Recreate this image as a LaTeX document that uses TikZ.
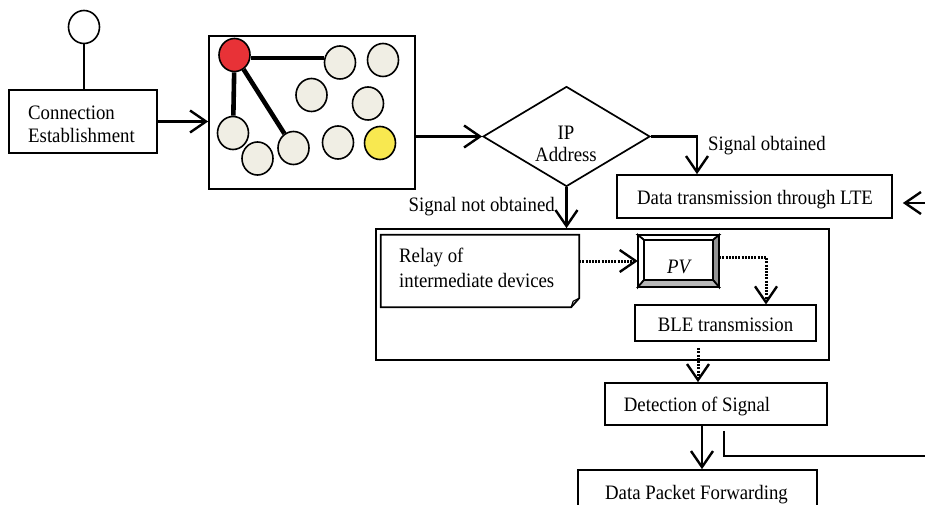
\documentclass[tikz,border=0pt]{standalone}
\usepackage{fontspec}
\setmainfont{Liberation Serif}
\usetikzlibrary{arrows.meta,shapes.geometric}
\definecolor{cream}{RGB}{240,238,228}
\definecolor{nodered}{RGB}{232,50,55}
\definecolor{nodeyellow}{RGB}{248,232,80}
\newcommand{\vst}[1]{\scalebox{1}[1.09]{#1}}
\begin{document}
\begin{tikzpicture}[x=1pt,y=-1pt,
  txt/.style={inner sep=0pt, font=\fontsize{18.8}{23.5}\selectfont},
  box/.style={draw, line width=1.7pt, rectangle, inner sep=0pt},
  arr/.style={line width=2.3pt, -{Straight Barb[length=16pt,width=22pt,line width=2.4pt]}},
  dotarr/.style={line width=3pt, dash pattern=on 2pt off 1.2pt, -{Straight Barb[length=16pt,width=22pt,line width=2.4pt]}},
  dev/.style={ellipse, draw, line width=1.6pt, fill=cream, minimum width=31pt, minimum height=33pt, inner sep=0pt},
  link/.style={line width=4.6pt},
  thin/.style={line width=1.7pt}]

\useasboundingbox (0,0) rectangle (925,505);
\clip (0,0) rectangle (925,505);
\fill[white] (0,0) rectangle (925,505);

% start
\node[dev, fill=white] (topc) at (84,27) {};
\node[box, minimum width=148pt, minimum height=63pt] (ce) at (83,121.5) {};
\node[txt, anchor=base west] (ce1) at (28,119.3) {\vst{Connection}};
\node[txt, anchor=base west] (ce2) at (28,142.7) {\vst{Establishment}};
\draw[thin] (topc.south) -- (topc.south |- ce.north);

% network
\node[box, minimum width=206pt, minimum height=153pt] (net) at (312,112.5) {};
\node[dev, fill=nodered] (red) at (234.5,55) {};
\node[dev] (c1) at (340,62.5) {};
\node[dev] (c2) at (383,60) {};
\node[dev] (c3) at (311.5,95) {};
\node[dev] (c4) at (368,103.5) {};
\node[dev] (c5) at (233,133) {};
\node[dev] (c6) at (257.5,158.5) {};
\node[dev] (c7) at (293.5,148) {};
\node[dev] (c8) at (338,142.5) {};
\node[dev, fill=nodeyellow] (yel) at (380,143) {};
\draw[link] (red.east |- 0,58) -- (c1.west |- 0,58);
\draw[link] (red) -- (c5);
\draw[link] (red) -- (c7);
\draw[arr] (ce.east) -- (ce.east -| net.west);

% decision
\node[diamond, draw, line width=1.7pt, minimum width=167pt, minimum height=100pt, inner sep=0pt] (ip) at (566.5,136.5) {};
\node[txt, anchor=base] (ip1) at (566,139.3) {\vst{IP}};
\node[txt, anchor=base] (ip2) at (566,161) {\vst{Address}};
\draw[arr] (net.east |- ip.west) -- (ip.west);

% LTE
\node[box, minimum width=275pt, minimum height=43pt] (lte) at (754.5,196.5) {};
\node[txt, anchor=base] (ltet) at (755,204) {\vst{Data transmission through LTE}};
\draw[arr] (ip.east) -| ([xshift=-57.5pt]lte.north);
\node[txt, anchor=base west] (so) at (708,150) {\vst{Signal obtained}};
\coordinate (rin) at (925,203);
\draw[arr] (rin) -- ([shift={(10pt,-6.5pt)}]lte.east);

% big box
\node[box, minimum width=453pt, minimum height=131pt] (big) at (602.5,294.5) {};
\draw[arr] (ip.south) -- (ip.south |- big.north);
\node[txt, anchor=base east] (sno) at (555,211.7) {\vst{Signal not obtained}};

% relay (document shape)
\node[minimum width=198pt, minimum height=72pt, inner sep=0pt] (relay) at (480,271) {};
\draw[thin, line join=miter] (relay.north west) -- (relay.north east) -- ([yshift=9pt]relay.south east)
  -- ([xshift=-8pt]relay.south east) -- (relay.south west) -- cycle;
\draw[line width=1.2pt] ([xshift=-8pt]relay.south east) -- ([xshift=-6pt,yshift=6pt]relay.south east) -- ([yshift=9pt]relay.south east);
\node[txt, anchor=base west] (r1) at (399,262.7) {\vst{Relay of}};
\node[txt, anchor=base west] (r2) at (399,287.7) {\vst{intermediate devices}};

% PV bevel box
\node[minimum width=81pt, minimum height=52pt, inner sep=0pt] (pv) at (678.5,261) {};
\filldraw[thin, fill=white] (638,235) -- (719,235) -- (713,240) -- (644,240) -- cycle;
\filldraw[thin, fill=white] (638,235) -- (644,240) -- (644,280) -- (638,287) -- cycle;
\filldraw[thin, fill=black!42] (719,235) -- (719,287) -- (713,280) -- (713,240) -- cycle;
\filldraw[thin, fill=black!28] (638,287) -- (719,287) -- (713,280) -- (644,280) -- cycle;
\draw[thin] (644,240) rectangle (713,280);
\node[txt, anchor=base, font=\fontsize{18.8}{23.5}\selectfont\itshape] (pvt) at (678.5,273) {\vst{PV}};
\draw[dotarr] (relay.east |- pv.west) -- (pv.west);

% BLE
\node[box, minimum width=181pt, minimum height=36pt] (ble) at (725.5,323.3) {};
\node[txt, anchor=base] (blet) at (725.5,331.7) {\vst{BLE transmission}};
\draw[dotarr] ([yshift=4pt]pv.east) -| ([xshift=40.5pt]ble.north);

% detection
\node[box, minimum width=222pt, minimum height=42pt] (det) at (716,404) {};
\node[txt, anchor=base] (dett) at (697,411) {\vst{Detection of Signal}};
\coordinate (bs) at ([xshift=-27.5pt,yshift=-6pt]ble.south);
\draw[dotarr] (bs) -- (bs |- det.north);

% data packet forwarding
\node[box, minimum width=239pt, minimum height=60pt] (dpf) at (697.5,500) {};
\node[txt, anchor=base] (dpft) at (696.5,499) {\vst{Data Packet Forwarding}};
\coordinate (da) at ([xshift=-14pt]det.south);
\draw[arr] (da) -- (da |- dpf.north);
\coordinate (dr) at ([xshift=8pt,yshift=-5pt]det.south);
\coordinate (rout) at (925,456);
\draw[thin] (dr) |- (rout);
\end{tikzpicture}
\end{document}
